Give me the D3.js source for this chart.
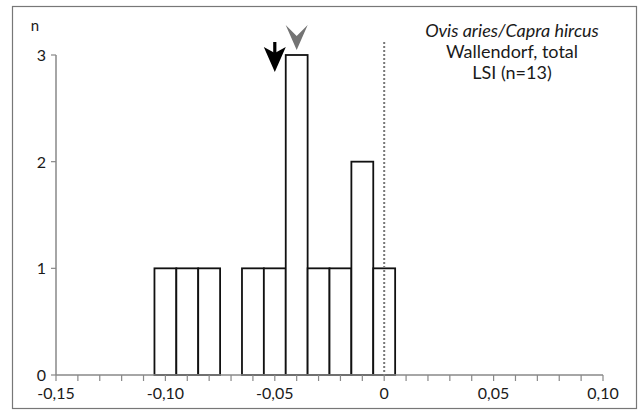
<!DOCTYPE html>
<html>
<head>
<meta charset="utf-8">
<script src="https://cdn.jsdelivr.net/npm/d3@7"></script>
<style>
  body { margin: 0; background: #fff; }
  text { font-family: Lato, "Open Sans", sans-serif; fill: #1a1a1a; }
</style>
</head>
<body>
<svg id="mainsvg" width="640" height="412"></svg>
<script>
// histogram of LSI values, bins 0.01 wide
const binCenters = [-0.10, -0.09, -0.08, -0.07, -0.06, -0.05, -0.04, -0.03, -0.02, -0.01, 0];
const counts = [1, 1, 1, 0, 1, 1, 3, 1, 1, 2, 1];
const binWidth = 0.01;

const xTicks = [-0.15, -0.10, -0.05, 0, 0.05, 0.10];
const yTicks = [0, 1, 2, 3];

// mean markers (black arrow, grey arrowhead)
const markers = [
  {value: -0.05, kind: 'arrow'},
  {value: -0.04, kind: 'chevron'}
];

const titleLines = ['Ovis aries/Capra hircus', 'Wallendorf, total', 'LSI (n=13)'];

let svg = d3.select('#mainsvg');
const width = +svg.attr('width'), height = +svg.attr('height');

const x = d3.scaleLinear().domain([-0.15, 0.10]).range([56, 603]);
const y = d3.scaleLinear().domain([0, 3]).range([375, 55]);

const locale = d3.formatLocale({decimal: ',', thousands: '.', grouping: [3], currency: ['', ''], minus: '-'});
const fmt = v => Math.abs(v) < 1e-9 ? '0' : locale.format('.2f')(v);

// frame
svg.append('rect')
  .attr('x', 12.5).attr('y', 6.5)
  .attr('width', 624).attr('height', 402)
  .attr('fill', 'none')
  .attr('stroke', '#777')
  .attr('stroke-width', 1.2);

// bars
const bars = binCenters.map((c, i) => ({c: c, n: counts[i]})).filter(d => d.n > 0);
svg.selectAll('rect.bar').data(bars)
  .enter().append('rect')
  .attr('class', 'bar')
  .attr('x', d => x(d.c - binWidth / 2))
  .attr('y', d => y(d.n))
  .attr('width', d => x(d.c + binWidth / 2) - x(d.c - binWidth / 2))
  .attr('height', d => y(0) - y(d.n))
  .attr('fill', 'white')
  .attr('stroke', '#111')
  .attr('stroke-width', 1.8);

// dotted zero line
svg.append('line')
  .attr('x1', x(0)).attr('x2', x(0))
  .attr('y1', 42).attr('y2', y(0))
  .attr('stroke', '#777')
  .attr('stroke-width', 2)
  .attr('stroke-dasharray', '2,2');

// x axis
const minorTicks = d3.range(-15, 11).map(i => i / 100);
const xAxis = svg.append('g').attr('transform', `translate(0,${y(0)})`);
xAxis.append('line')
  .attr('x1', x(-0.15)).attr('x2', x(0.10))
  .attr('stroke', '#888').attr('stroke-width', 1.5);
xAxis.selectAll('line.tick').data(minorTicks)
  .enter().append('line')
  .attr('class', 'tick')
  .attr('x1', d => x(d)).attr('x2', d => x(d))
  .attr('y1', 0).attr('y2', 6)
  .attr('stroke', '#888').attr('stroke-width', 1.2);
xAxis.selectAll('text').data(xTicks)
  .enter().append('text')
  .attr('x', d => x(d))
  .attr('y', 24)
  .attr('text-anchor', 'middle')
  .attr('font-size', 16)
  .text(fmt);

// y axis
const yAxis = svg.append('g').attr('transform', `translate(${x(-0.15)},0)`);
yAxis.append('line')
  .attr('y1', y(3)).attr('y2', y(0))
  .attr('stroke', '#888').attr('stroke-width', 1.5);
yAxis.selectAll('line.tick').data(yTicks)
  .enter().append('line')
  .attr('class', 'tick')
  .attr('x1', -5).attr('x2', 0)
  .attr('y1', d => y(d)).attr('y2', d => y(d))
  .attr('stroke', '#888').attr('stroke-width', 1.2);
yAxis.selectAll('text').data(yTicks)
  .enter().append('text')
  .attr('x', -10)
  .attr('y', d => y(d) + 6)
  .attr('text-anchor', 'end')
  .attr('font-size', 16)
  .text(d => d);

svg.append('text')
  .attr('x', 35).attr('y', 31)
  .attr('text-anchor', 'middle')
  .attr('font-size', 15)
  .text('n');

// markers
markers.forEach(m => {
  const cx = x(m.value);
  if (m.kind === 'arrow') {
    const tip = 72;
    svg.append('rect')
      .attr('x', cx - 1.6).attr('y', tip - 30)
      .attr('width', 3.2).attr('height', 14)
      .attr('fill', '#000');
    svg.append('path')
      .attr('d', `M${cx},${tip} L${cx - 11},${tip - 25} L${cx},${tip - 19} L${cx + 11},${tip - 25} Z`)
      .attr('fill', '#000');
  } else {
    const tip = 50;
    svg.append('path')
      .attr('d', `M${cx},${tip} L${cx - 11},${tip - 25} L${cx},${tip - 14} L${cx + 11},${tip - 25} Z`)
      .attr('fill', '#737373');
  }
});

// title
const title = svg.append('text')
  .attr('text-anchor', 'middle')
  .attr('font-size', 18);
titleLines.forEach((t, i) => {
  title.append('tspan')
    .attr('x', 512)
    .attr('y', 37 + i * 21)
    .attr('font-style', i === 0 ? 'italic' : 'normal')
    .text(t);
});
</script>
</body>
</html>
